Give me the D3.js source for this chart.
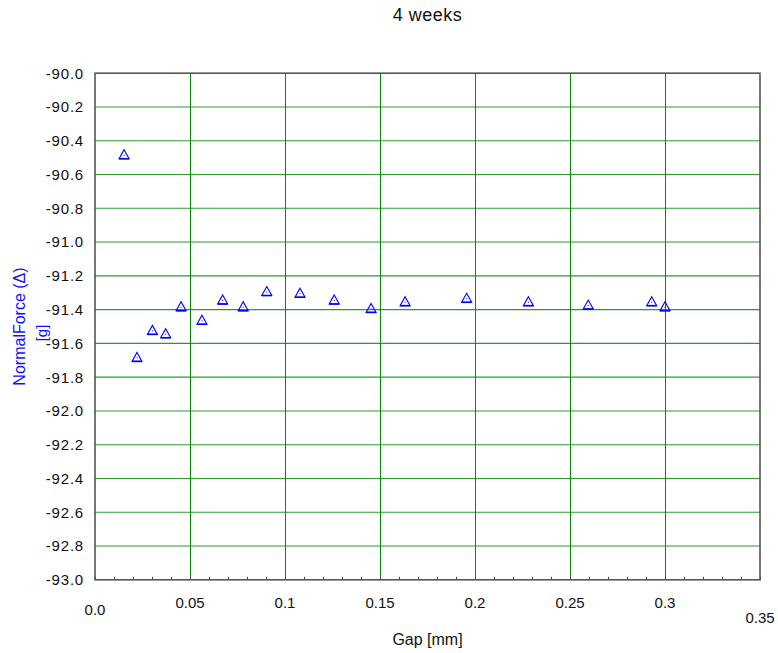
<!DOCTYPE html>
<html>
<head>
<meta charset="utf-8">
<script src="https://cdn.jsdelivr.net/npm/d3@7"></script>
<style>
  html, body { margin: 0; padding: 0; background: #fff; }
  svg { display: block; font-family: "Liberation Sans", Arial, sans-serif; }
</style>
</head>
<body>
<svg id="chart" width="778" height="653"></svg>
<script>
// ---- data ----
const gap = [0.0153, 0.0221, 0.0302, 0.0372, 0.0453, 0.0563, 0.0672, 0.0780, 0.0904,
             0.1079, 0.1259, 0.1453, 0.1632, 0.1956, 0.2281, 0.2596, 0.2930, 0.3000];
const normalForce = [-90.48, -91.68, -91.52, -91.54, -91.38, -91.46, -91.34, -91.38, -91.29,
                     -91.30, -91.34, -91.39, -91.35, -91.33, -91.35, -91.37, -91.35, -91.38];
const xTicks = [0.0, 0.05, 0.1, 0.15, 0.2, 0.25, 0.3, 0.35];
const xTickLabels = ["0.0", "0.05", "0.1", "0.15", "0.2", "0.25", "0.3", "0.35"];
const yTicks = [-90.0, -90.2, -90.4, -90.6, -90.8, -91.0, -91.2, -91.4, -91.6, -91.8,
                -92.0, -92.2, -92.4, -92.6, -92.8, -93.0];
const xMinorTicks = d3.range(0, 36).map(i => i / 100);
const titleText = "4 weeks";
const xTitle = "Gap [mm]";
const yTitle1 = "NormalForce (\u0394)";
const yTitle2 = "[g]";

// ---- layout ----
const L = 95, R = 760, T = 73.2, B = 579.8;
const svg = d3.select("#chart");
const x = d3.scaleLinear().domain([0, 0.35]).range([L, R]);
const y = d3.scaleLinear().domain([-90, -93]).range([T, B]);

// gridlines
const grid = svg.append("g");
grid.selectAll("line.h").data(yTicks.slice(1, -1)).enter().append("line")
  .attr("x1", L).attr("x2", R)
  .attr("y1", d => y(d)).attr("y2", d => y(d))
  .attr("stroke", "#2e9a2e").attr("stroke-width", 1.1);
grid.selectAll("line.v").data(xTicks.slice(1, -1)).enter().append("line")
  .attr("x1", d => Math.round(x(d)) + 0.5).attr("x2", d => Math.round(x(d)) + 0.5)
  .attr("y1", T).attr("y2", B)
  .attr("stroke", "#0a850a").attr("stroke-width", 1);

// minor ticks on x axis (inside)
svg.append("g").selectAll("line").data(xMinorTicks).enter().append("line")
  .attr("x1", d => Math.round(x(d)) + 0.5).attr("x2", d => Math.round(x(d)) + 0.5)
  .attr("y1", B - 3).attr("y2", B)
  .attr("stroke", "#444").attr("stroke-width", 1);

// frame
svg.append("rect").attr("x", L).attr("y", T).attr("width", R - L).attr("height", B - T)
  .attr("fill", "none").attr("stroke", "#555").attr("stroke-width", 1.6);

// y tick labels
svg.append("g").selectAll("text").data(yTicks).enter().append("text")
  .attr("x", 84).attr("y", d => y(d)).attr("dy", "0.36em")
  .attr("text-anchor", "end").attr("font-size", 15).attr("letter-spacing", "0.8px")
  .attr("fill", "#111")
  .text(d => d.toFixed(1));

// x tick labels (staggered like the original)
const xLabelY = i => (i === 0 ? 615 : (i === xTicks.length - 1 ? 623 : 608));
svg.append("g").selectAll("text").data(xTicks).enter().append("text")
  .attr("x", d => x(d)).attr("y", (d, i) => xLabelY(i))
  .attr("text-anchor", "middle").attr("font-size", 15)
  .attr("fill", "#111")
  .text((d, i) => xTickLabels[i]);

// titles
svg.append("text").attr("x", (L + R) / 2).attr("y", 21)
  .attr("text-anchor", "middle").attr("font-size", 18).attr("letter-spacing", "0.5px")
  .attr("fill", "#111").text(titleText);
svg.append("text").attr("x", (L + R) / 2).attr("y", 645)
  .attr("text-anchor", "middle").attr("font-size", 16)
  .attr("fill", "#111").text(xTitle);
svg.append("text").attr("transform", `translate(25,${(T + B) / 2}) rotate(-90)`)
  .attr("text-anchor", "middle").attr("font-size", 16)
  .attr("fill", "#1010ff").text(yTitle1);
svg.append("text").attr("transform", `translate(47,333) rotate(-90)`)
  .attr("text-anchor", "middle").attr("font-size", 15)
  .attr("fill", "#1010ff").text(yTitle2);

// markers
const tri = "M0,-4.5L5,4.5L-5,4.5Z";
const pts = svg.append("g").selectAll("g").data(gap.map((g, i) => [g, normalForce[i]]))
  .enter().append("g")
  .attr("transform", d => `translate(${x(d[0])},${y(d[1])})`);
pts.append("path").attr("d", tri).attr("fill", "none")
  .attr("stroke", "#0000ff").attr("stroke-width", 1.1);
pts.append("line").attr("x1", -5).attr("x2", 5).attr("y1", 4.5).attr("y2", 4.5)
  .attr("stroke", "#0000ff").attr("stroke-width", 1.6);
pts.append("rect").attr("x", -0.5).attr("y", 0.5).attr("width", 1).attr("height", 1)
  .attr("fill", "#0000ff");
</script>
</body>
</html>
